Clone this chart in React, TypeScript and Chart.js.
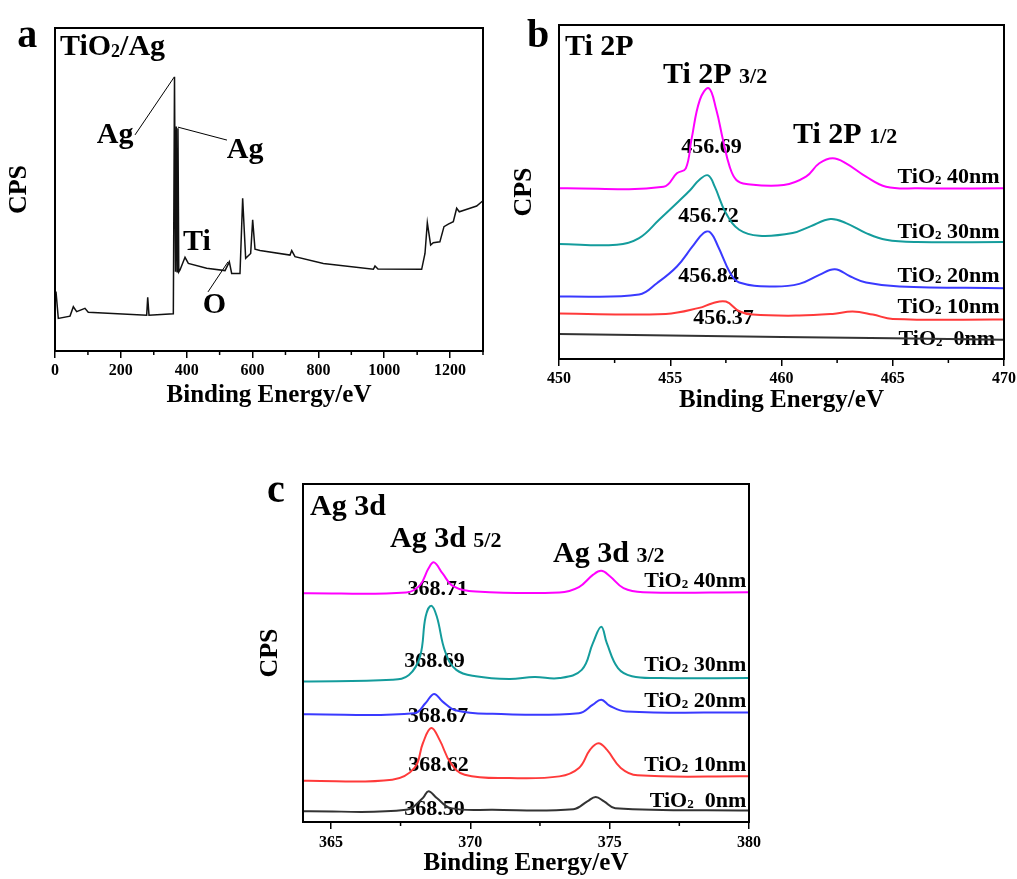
import React, { useEffect, useRef } from 'react';
import { Chart, registerables } from 'chart.js';

Chart.register(...registerables);

const FONT = '"Liberation Serif", "Times New Roman", serif';

// ---------- Panel a: survey ----------
const surveyEnergy = [0, 3, 10, 45.6, 55.7, 65.8, 91, 101, 278.5, 281.6, 285.5, 359.4, 363, 366, 368.5, 371, 373.5, 376, 379.7, 394.9, 405, 460.7, 516.4, 529.5, 536.6, 561.9, 570, 579.1, 594.3, 600.4, 607.5, 622.7, 713.8, 719, 729, 815, 967, 972, 981, 1113.7, 1123.8, 1130.9, 1141, 1149, 1169, 1181.5, 1194.6, 1209.8, 1220, 1228, 1260.5, 1280.8, 1296, 1300];
const surveyCps = [17, 18.4, 10.1, 10.8, 13.7, 12.2, 13.2, 12.0, 11.1, 16.6, 11.1, 11.5, 84.9, 24.5, 69.5, 24.5, 69, 24.5, 25.1, 29.0, 27.1, 25.6, 24.9, 27.6, 24.0, 24.0, 47.3, 28.7, 30.2, 40.6, 31.5, 31.1, 29.7, 31.1, 29.2, 27.1, 25.3, 26.3, 25.4, 25.3, 30.2, 39.7, 32.8, 33.5, 33.8, 38.5, 39.3, 40.0, 44.2, 43.1, 44.2, 44.9, 46.2, 46.5];
const surveyTicks = [0, 100, 200, 300, 400, 500, 600, 700, 800, 900, 1000, 1100, 1200, 1300];
const surveyTickLabels = [0, 200, 400, 600, 800, 1000, 1200];

// ---------- Panel b: Ti 2p ----------
const ti40Energy = [450, 454.7, 455.3, 455.7, 455.95, 456.33, 456.73, 457.07, 457.37, 457.67, 457.97, 458.42, 460.1, 461.1, 461.7, 462.3, 462.9, 463.8, 464.7, 466.1, 470];
const ti40Cps = [51.1, 51.6, 55.6, 57.1, 65.6, 77.6, 81.1, 74.6, 65.6, 57.6, 53.6, 52.4, 52.1, 54.6, 58.6, 60.1, 58.6, 54.6, 51.6, 51.1, 51.1];
const ti30Energy = [450, 452.6, 453.6, 454.5, 455.3, 455.9, 456.3, 456.7, 457.0, 457.5, 458.1, 459.0, 460.5, 461.3, 462.2, 462.9, 463.8, 464.7, 466.1, 470];
const ti30Cps = [34.4, 34.2, 36.2, 41.7, 46.7, 50.6, 53.6, 55.0, 51.6, 43.7, 38.7, 36.9, 37.7, 39.7, 41.9, 40.7, 37.7, 35.7, 35.0, 35.0];
const ti20Energy = [450, 453.6, 454.4, 455.3, 456.0, 456.5, 456.8, 457.15, 457.7, 458.1, 459.6, 460.8, 461.7, 462.4, 463.1, 463.8, 465.3, 470];
const ti20Cps = [18.7, 19.3, 22.7, 27.7, 33.7, 37.7, 37.9, 33.7, 25.7, 22.9, 21.7, 22.5, 25.2, 26.9, 24.7, 22.9, 21.7, 21.2];
const ti10Energy = [450, 454.8, 456.3, 456.9, 457.5, 458.1, 458.7, 460.8, 462.3, 463.2, 464.1, 465.0, 470];
const ti10Cps = [13.6, 13.5, 15.3, 16.7, 17.2, 14.3, 13.3, 13.0, 13.5, 14.2, 13.3, 12.0, 11.8];
const ti0Energy = [450, 460, 470];
const ti0Cps = [7.5, 6.6, 5.8];
const tiTicks = [450, 452.5, 455, 457.5, 460, 462.5, 465, 467.5, 470];
const tiTickLabels = [450, 455, 460, 465, 470];

// ---------- Panel c: Ag 3d ----------
const ag40Energy = [364, 367.7, 368.2, 368.5, 368.7, 369.0, 369.4, 370.2, 373.2, 373.9, 374.4, 374.7, 375.0, 375.5, 376.2, 380];
const ag40Cps = [67.7, 67.9, 70.1, 75.0, 76.8, 73.6, 69.7, 68.2, 67.9, 69.5, 73.1, 74.3, 72.8, 69.2, 68.0, 68.0];
const ag30Energy = [364, 367.2, 367.8, 368.2, 368.4, 368.6, 368.8, 369.1, 369.5, 370.2, 371.4, 372.3, 373.2, 374.0, 374.4, 374.7, 374.9, 375.3, 375.8, 376.8, 380];
const ag30Cps = [41.6, 42.1, 43.5, 49.0, 60.8, 64.0, 60.8, 50.4, 45.0, 43.1, 42.3, 42.9, 42.6, 45.0, 52.9, 57.8, 52.9, 45.5, 43.1, 42.6, 42.6];
const ag20Energy = [364, 368.0, 368.4, 368.7, 369.0, 369.5, 370.8, 373.9, 374.4, 374.7, 375.0, 375.6, 380];
const ag20Cps = [31.9, 32.2, 35.2, 37.9, 35.7, 33.0, 32.0, 32.2, 34.7, 36.2, 34.4, 32.7, 32.4];
const ag10Energy = [364, 367.2, 368.0, 368.3, 368.6, 368.9, 369.3, 369.8, 371.4, 373.2, 373.9, 374.3, 374.6, 374.9, 375.4, 376.0, 380];
const ag10Cps = [12.2, 12.5, 16.0, 23.3, 27.8, 24.3, 17.4, 14.0, 13.0, 13.5, 16.0, 21.4, 23.3, 21.4, 16.0, 13.8, 13.5];
const ag0Energy = [364, 367.7, 368.3, 368.5, 368.8, 369.3, 370.8, 373.7, 374.2, 374.5, 374.8, 375.2, 380];
const ag0Cps = [3.2, 3.6, 7.1, 9.1, 7.1, 4.1, 3.6, 3.8, 6.1, 7.4, 6.1, 4.1, 3.4];
const agTicks = [365, 367.5, 370, 372.5, 375, 377.5, 380];
const agTickLabels = [365, 370, 375, 380];

const seriesColors = ['#ff00ff', '#149c9c', '#3a3aff', '#ff3a3a', '#333333'];

type Seg = { t: string; s: number; dy?: number };
type Note = { x: number; y: number; align: 'left' | 'center' | 'right'; segs: Seg[] };
type Leader = { x1: number; y1: number; x2: number; y2: number };

const tio2 = (rest: string): Seg[] => [
  { t: 'TiO', s: 22 },
  { t: '2', s: 13, dy: 1 },
  { t: rest, s: 22 },
];

const notesA: Note[] = [
  { x: -115, y: 94.1, align: 'left', segs: [{ t: 'a', s: 40 }] },
  { x: 15, y: 91.6, align: 'left', segs: [{ t: 'TiO', s: 30 }, { t: '2', s: 18, dy: 2 }, { t: '/Ag', s: 30 }] },
  { x: 127, y: 64.4, align: 'left', segs: [{ t: 'Ag', s: 30 }] },
  { x: 522, y: 59.8, align: 'left', segs: [{ t: 'Ag', s: 30 }] },
  { x: 389, y: 31.3, align: 'left', segs: [{ t: 'Ti', s: 30 }] },
  { x: 449, y: 11.8, align: 'left', segs: [{ t: 'O', s: 30 }] },
];
const leadersA: Leader[] = [
  { x1: 243, y1: 66.9, x2: 362, y2: 84.8 },
  { x1: 373.6, y1: 69.3, x2: 522.4, y2: 65.3 },
  { x1: 464.7, y1: 18.3, x2: 525.5, y2: 27.6 },
];

const notesB: Note[] = [
  { x: 448.56, y: 93.4, align: 'left', segs: [{ t: 'b', s: 40 }] },
  { x: 450.27, y: 91.0, align: 'left', segs: [{ t: 'Ti 2P', s: 30 }] },
  { x: 454.67, y: 82.6, align: 'left', segs: [{ t: 'Ti 2P ', s: 30 }, { t: '3/2', s: 22 }] },
  { x: 460.52, y: 64.7, align: 'left', segs: [{ t: 'Ti 2P ', s: 30 }, { t: '1/2', s: 22 }] },
  { x: 456.85, y: 61.7, align: 'center', segs: [{ t: '456.69', s: 22 }] },
  { x: 456.72, y: 41.0, align: 'center', segs: [{ t: '456.72', s: 22 }] },
  { x: 456.72, y: 23.1, align: 'center', segs: [{ t: '456.84', s: 22 }] },
  { x: 457.39, y: 10.4, align: 'center', segs: [{ t: '456.37', s: 22 }] },
  { x: 469.8, y: 52.8, align: 'right', segs: tio2(' 40nm') },
  { x: 469.8, y: 36.3, align: 'right', segs: tio2(' 30nm') },
  { x: 469.8, y: 23.1, align: 'right', segs: tio2(' 20nm') },
  { x: 469.8, y: 13.8, align: 'right', segs: tio2(' 10nm') },
  { x: 469.6, y: 4.2, align: 'right', segs: tio2('  0nm') },
];

const notesC: Note[] = [
  { x: 362.71, y: 94.7, align: 'left', segs: [{ t: 'c', s: 40 }] },
  { x: 364.25, y: 90.8, align: 'left', segs: [{ t: 'Ag 3d', s: 30 }] },
  { x: 367.12, y: 81.4, align: 'left', segs: [{ t: 'Ag 3d ', s: 30 }, { t: '5/2', s: 22 }] },
  { x: 372.97, y: 76.9, align: 'left', segs: [{ t: 'Ag 3d ', s: 30 }, { t: '3/2', s: 22 }] },
  { x: 368.83, y: 67.2, align: 'center', segs: [{ t: '368.71', s: 22 }] },
  { x: 368.72, y: 45.9, align: 'center', segs: [{ t: '368.69', s: 22 }] },
  { x: 368.84, y: 29.6, align: 'center', segs: [{ t: '368.67', s: 22 }] },
  { x: 368.86, y: 15.0, align: 'center', segs: [{ t: '368.62', s: 22 }] },
  { x: 368.72, y: 2.1, align: 'center', segs: [{ t: '368.50', s: 22 }] },
  { x: 379.9, y: 69.5, align: 'right', segs: tio2(' 40nm') },
  { x: 379.9, y: 44.6, align: 'right', segs: tio2(' 30nm') },
  { x: 379.9, y: 34.1, align: 'right', segs: tio2(' 20nm') },
  { x: 379.9, y: 15.2, align: 'right', segs: tio2(' 10nm') },
  { x: 379.9, y: 4.5, align: 'right', segs: tio2('  0nm') },
];

const toPoints = (xs: number[], ys: number[]) => xs.map((x, i) => ({ x, y: ys[i] }));

function drawRich(ctx: CanvasRenderingContext2D, segs: Seg[], x: number, y: number, align: string) {
  let total = 0;
  const widths = segs.map((s) => {
    ctx.font = `bold ${s.s}px ${FONT}`;
    const w = ctx.measureText(s.t).width;
    total += w;
    return w;
  });
  let cx = align === 'left' ? x : align === 'right' ? x - total : x - total / 2;
  ctx.textAlign = 'left';
  ctx.textBaseline = 'alphabetic';
  segs.forEach((s, i) => {
    ctx.font = `bold ${s.s}px ${FONT}`;
    ctx.fillText(s.t, cx, y + (s.dy || 0));
    cx += widths[i];
  });
}

type PanelSpec = {
  left: number;
  top: number;
  width: number;
  height: number;
  padTop: number;
  padRight: number;
  yWidth: number;
  xHeight: number;
  xMin: number;
  xMax: number;
  ticks: number[];
  tickLabels: number[];
  tickPad: number;
  xTitlePad: number;
  yTitlePad: number;
  datasets: any[];
  notes: Note[];
  leaders: Leader[];
};

const MAJOR_TICK = 7;
const MINOR_TICK = 4;

function Panel({ spec }: { spec: PanelSpec }) {
  const ref = useRef<HTMLCanvasElement | null>(null);
  useEffect(() => {
    if (!ref.current) return;
    const isMajor = (v: number) => spec.tickLabels.includes(Number(v));
    const decor = {
      id: 'decor',
      beforeDatasetsDraw(chart: any) {
        const ctx = chart.ctx as CanvasRenderingContext2D;
        const xs = chart.scales.x;
        const ys = chart.scales.y;
        ctx.save();
        ctx.fillStyle = '#000';
        spec.notes.forEach((n) => {
          drawRich(ctx, n.segs, xs.getPixelForValue(n.x), ys.getPixelForValue(n.y), n.align);
        });
        ctx.strokeStyle = '#000';
        ctx.lineWidth = 1;
        spec.leaders.forEach((l) => {
          ctx.beginPath();
          ctx.moveTo(xs.getPixelForValue(l.x1), ys.getPixelForValue(l.y1));
          ctx.lineTo(xs.getPixelForValue(l.x2), ys.getPixelForValue(l.y2));
          ctx.stroke();
        });
        ctx.restore();
      },
      afterDraw(chart: any) {
        const { left, top, right, bottom } = chart.chartArea;
        const ctx = chart.ctx as CanvasRenderingContext2D;
        const xs = chart.scales.x;
        ctx.save();
        ctx.strokeStyle = '#000';
        ctx.lineWidth = 1.5;
        spec.ticks.filter((v) => !isMajor(v)).forEach((v) => {
          const px = xs.getPixelForValue(v);
          ctx.beginPath();
          ctx.moveTo(px, bottom);
          ctx.lineTo(px, bottom + MINOR_TICK);
          ctx.stroke();
        });
        ctx.lineWidth = 2;
        ctx.strokeRect(left, top, right - left, bottom - top);
        ctx.restore();
      },
    };
    const chart = new Chart(ref.current, {
      type: 'line',
      data: { datasets: spec.datasets },
      options: {
        animation: false,
        responsive: false,
        maintainAspectRatio: false,
        events: [],
        layout: { padding: { top: spec.padTop, right: spec.padRight, left: 0, bottom: 0 } },
        plugins: { legend: { display: false }, tooltip: { enabled: false } },
        elements: { point: { radius: 0 } },
        scales: {
          x: {
            type: 'linear',
            min: spec.xMin,
            max: spec.xMax,
            afterBuildTicks: (s: any) => {
              s.ticks = spec.ticks.map((v) => ({ value: v }));
            },
            afterFit: (s: any) => {
              s.height = spec.xHeight;
              s.paddingLeft = 0;
              s.paddingRight = 0;
            },
            ticks: {
              autoSkip: false,
              maxRotation: 0,
              minRotation: 0,
              padding: spec.tickPad,
              color: '#000',
              font: { family: FONT, size: 16, weight: 'bold' },
              callback: (v: any) => (isMajor(v) ? String(v) : ''),
            },
            grid: {
              display: true,
              drawOnChartArea: false,
              drawTicks: true,
              tickLength: MAJOR_TICK,
              color: '#000',
              lineWidth: 1.5,
              tickColor: (c: any) => (c.tick && isMajor(c.tick.value) ? '#000' : 'rgba(0,0,0,0)'),
            },
            border: { display: true, color: '#000', width: 2 },
            title: {
              display: true,
              text: 'Binding Energy/eV',
              color: '#000',
              font: { family: FONT, size: 25, weight: 'bold' },
              padding: { top: 0, bottom: spec.xTitlePad },
            },
          },
          y: {
            type: 'linear',
            min: 0,
            max: 100,
            afterFit: (s: any) => {
              s.width = spec.yWidth;
            },
            ticks: { display: false },
            grid: { display: false },
            border: { display: true, color: '#000', width: 2 },
            title: {
              display: true,
              text: 'CPS',
              color: '#000',
              font: { family: FONT, size: 26, weight: 'bold' },
              padding: { top: spec.yTitlePad, bottom: 0 },
            },
          },
        },
      } as any,
      plugins: [decor],
    });
    return () => chart.destroy();
  }, [spec]);
  return (
    <canvas
      ref={ref}
      width={spec.width}
      height={spec.height}
      style={{ position: 'absolute', left: spec.left, top: spec.top, width: spec.width, height: spec.height }}
    />
  );
}

const lineDs = (label: string, xs: number[], ys: number[], color: string, width: number, smooth: boolean) => ({
  label,
  data: toPoints(xs, ys),
  borderColor: color,
  backgroundColor: color,
  borderWidth: width,
  pointRadius: 0,
  fill: false,
  tension: smooth ? 0.4 : 0,
});

const panelA: PanelSpec = {
  left: 0, top: 0, width: 500, height: 420,
  padTop: 28, padRight: 17, yWidth: 55, xHeight: 69,
  xMin: 0, xMax: 1300, ticks: surveyTicks, tickLabels: surveyTickLabels,
  tickPad: 3, xTitlePad: 9, yTitlePad: 4,
  datasets: [lineDs('TiO2/Ag', surveyEnergy, surveyCps, '#111111', 1.5, false)],
  notes: notesA, leaders: leadersA,
};

const panelB: PanelSpec = {
  left: 500, top: 0, width: 517, height: 420,
  padTop: 25, padRight: 13, yWidth: 59, xHeight: 61,
  xMin: 450, xMax: 470, ticks: tiTicks, tickLabels: tiTickLabels,
  tickPad: 3, xTitlePad: 4, yTitlePad: 9,
  datasets: [
    lineDs('TiO2 40nm', ti40Energy, ti40Cps, seriesColors[0], 2, true),
    lineDs('TiO2 30nm', ti30Energy, ti30Cps, seriesColors[1], 2, true),
    lineDs('TiO2 20nm', ti20Energy, ti20Cps, seriesColors[2], 2, true),
    lineDs('TiO2 10nm', ti10Energy, ti10Cps, seriesColors[3], 2, true),
    lineDs('TiO2 0nm', ti0Energy, ti0Cps, seriesColors[4], 2, true),
  ],
  notes: notesB, leaders: [],
};

const panelC: PanelSpec = {
  left: 250, top: 470, width: 520, height: 409,
  padTop: 14, padRight: 21, yWidth: 53, xHeight: 57,
  xMin: 364, xMax: 380, ticks: agTicks, tickLabels: agTickLabels,
  tickPad: 4, xTitlePad: 0, yTitlePad: 5,
  datasets: [
    lineDs('TiO2 40nm', ag40Energy, ag40Cps, seriesColors[0], 2, true),
    lineDs('TiO2 30nm', ag30Energy, ag30Cps, seriesColors[1], 2, true),
    lineDs('TiO2 20nm', ag20Energy, ag20Cps, seriesColors[2], 2, true),
    lineDs('TiO2 10nm', ag10Energy, ag10Cps, seriesColors[3], 2, true),
    lineDs('TiO2 0nm', ag0Energy, ag0Cps, seriesColors[4], 2, true),
  ],
  notes: notesC, leaders: [],
};

export default function App() {
  return (
    <div style={{ position: 'absolute', left: 0, top: 0, width: 1017, height: 879, overflow: 'hidden', background: '#fff' }}>
      <Panel spec={panelA} />
      <Panel spec={panelB} />
      <Panel spec={panelC} />
    </div>
  );
}
